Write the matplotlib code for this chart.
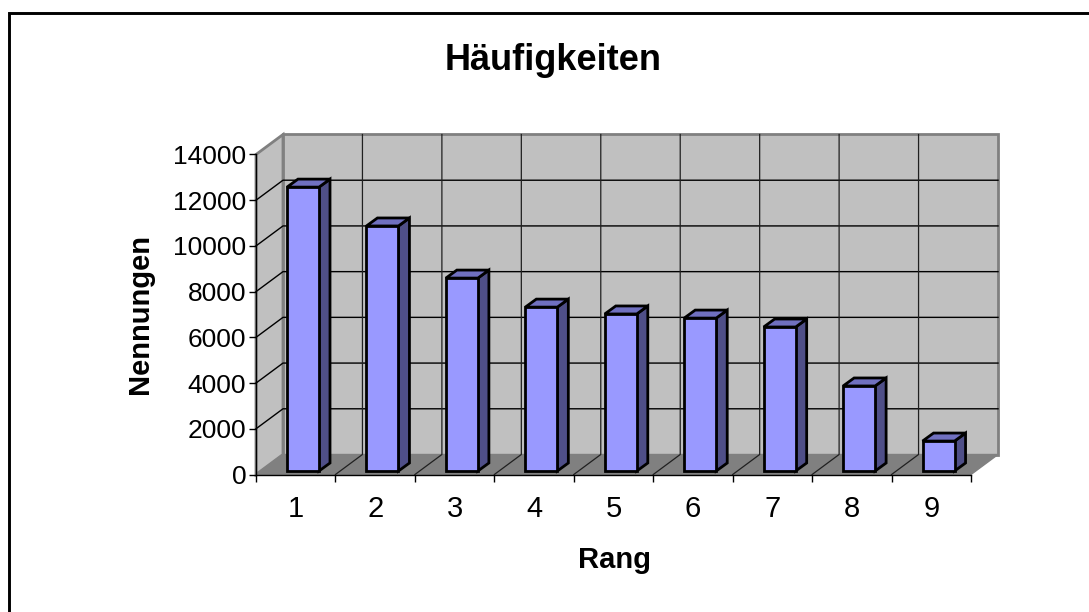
import matplotlib
matplotlib.use('Agg')
import matplotlib.pyplot as plt
from matplotlib.lines import Line2D
from matplotlib.patches import Polygon, Rectangle

plt.rcParams['font.family'] = ['Liberation Sans', 'DejaVu Sans']

ranks = ['1', '2', '3', '4', '5', '6', '7', '8', '9']
counts = [12420, 10720, 8440, 7170, 6870, 6690, 6300, 3720, 1310]
y_ticks = [0, 2000, 4000, 6000, 8000, 10000, 12000, 14000]

W, H = 1089, 612
fig = plt.figure(figsize=(W / 100, H / 100), dpi=100, facecolor='white')

# frame: only top and left edge are inside the picture
fig.add_artist(Line2D([8.5 / W, 8.5 / W, 1], [0, 1 - 13.2 / H, 1 - 13.2 / H], transform=fig.transFigure,
                      color='black', linewidth=2.1, solid_joinstyle='miter'))

# axes = front plane of the fake 3d box
x0, x1 = 256, 971
y0, y1 = 474.5, 154.5
ax = fig.add_axes([x0 / W, 1 - y0 / H, (x1 - x0) / W, (y0 - y1) / H])
ax.set_xlim(0, 9)
ax.set_ylim(0, 14000)
ax.patch.set_visible(False)

px = 9 / (x1 - x0)
py = 14000 / (y0 - y1)

# depth of the box
dx = 27 * px
dy = 20 * py

wall = '#c0c0c0'
edge = '#808080'

ax.add_patch(Polygon([(0, 0), (dx, dy), (dx, 14000 + dy), (0, 14000)], closed=True, facecolor=wall,
                     edgecolor=edge, linewidth=2, clip_on=False, zorder=1))
ax.add_patch(Rectangle((dx, dy), 9, 14000, facecolor=wall, edgecolor=edge, linewidth=2, clip_on=False, zorder=1))
ax.add_patch(Polygon([(0, 0), (dx, dy), (9 + dx, dy), (9, 0)], closed=True, facecolor='#808080',
                     edgecolor='#808080', linewidth=1, clip_on=False, zorder=1))

# gridlines on walls and floor
for v in y_ticks[1:-1]:
    ax.plot([0, dx, 9 + dx], [v, v + dy, v + dy], color='black', lw=1, clip_on=False, zorder=2)
for i in range(1, 9):
    ax.plot([i, i + dx, i + dx], [0, dy, 14000 + dy], color='#202020', lw=0.9, clip_on=False, zorder=2)

# bars
bar_w = 32 * px
off_x = (287 - x0) * px - (79.44 * px - bar_w) / 2
off_y = 3.5 * py
side_x = 11 * px
side_y = 8 * py
for i, v in enumerate(counts):
    l = i + (1 - bar_w) / 2 + off_x
    r = l + bar_w
    b = off_y
    t = v + off_y
    ax.add_patch(Polygon([(r, b), (r + side_x, b + side_y), (r + side_x, t + side_y), (r, t)], closed=True,
                         facecolor='#4f4f88', edgecolor='black', lw=2, joinstyle='miter', clip_on=False, zorder=3))
    ax.add_patch(Polygon([(l, t), (l + side_x, t + side_y), (r + side_x, t + side_y), (r, t)], closed=True,
                         facecolor='#7070c0', edgecolor='black', lw=2, joinstyle='miter', clip_on=False, zorder=3))
    ax.add_patch(Rectangle((l, b), bar_w, v, facecolor='#9999ff', edgecolor='black', lw=2, clip_on=False, zorder=4))

for s in ['top', 'right']:
    ax.spines[s].set_visible(False)
for s in ['left', 'bottom']:
    ax.spines[s].set_color('black')
    ax.spines[s].set_linewidth(1)
    ax.spines[s].set_zorder(5)

ax.set_xticks(range(0, 10))
ax.set_xticklabels([])
ax.set_xticks([i + 0.5 for i in range(9)], minor=True)
ax.set_xticklabels(ranks, minor=True, fontsize=21)
ax.tick_params(axis='x', which='major', length=5, width=1, direction='out')
ax.tick_params(axis='x', which='minor', length=0, pad=15)
ax.set_yticks(y_ticks)
ax.set_yticklabels([str(v) for v in y_ticks], fontsize=19)
ax.tick_params(axis='y', length=5, width=1, direction='out', pad=2)

fig.text(553.5 / W, 1 - 70 / H, 'Häufigkeiten', fontsize=26, fontweight='bold', ha='center', va='baseline')
fig.text(614 / W, 1 - 568 / H, 'Rang', fontsize=21, fontweight='bold', ha='center', va='baseline')
fig.text(140 / W, 1 - 314 / H, 'Nennungen', fontsize=21, fontweight='bold', rotation=90, ha='center', va='center')

fig.savefig('out.png', dpi=100)
